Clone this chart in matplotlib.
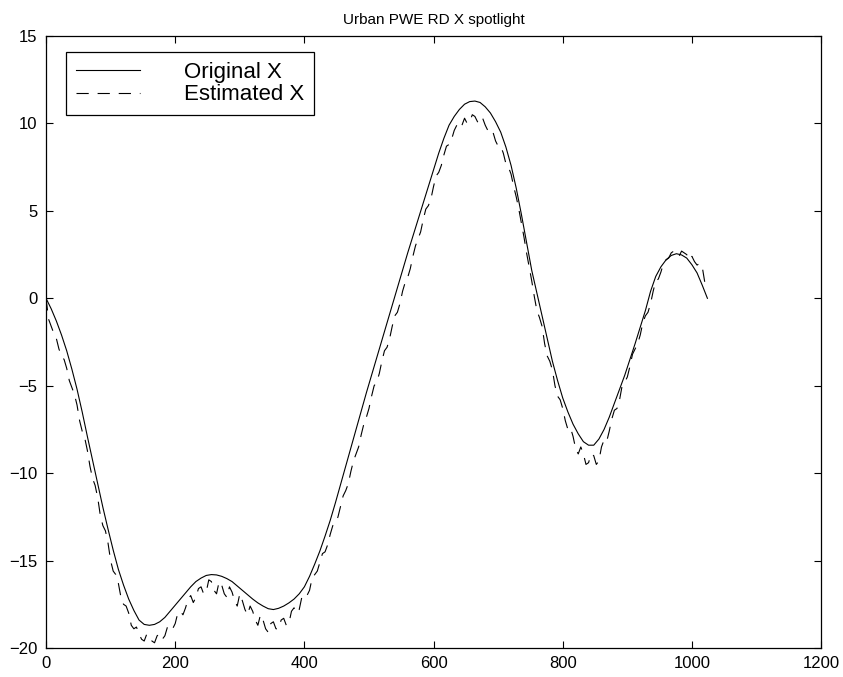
from matplotlib import pyplot as plt

plt.rcParams['font.family'] = ['Liberation Sans', 'DejaVu Sans']

# sinal original (amostrado a cada 8)
x_orig = list(range(0, 1025, 8))
y_orig = [0.0, -0.6, -1.3, -2.1, -3.0, -4.05, -5.2, -6.5, -7.9, -9.25,
          -10.6, -11.95, -13.2, -14.4, -15.5, -16.4, -17.2, -17.85, -18.4, -18.65,
          -18.7, -18.65, -18.5, -18.25, -17.9, -17.55, -17.2, -16.85, -16.5, -16.2,
          -16.0, -15.85, -15.8, -15.82, -15.9, -16.03, -16.2, -16.45, -16.7, -16.95,
          -17.2, -17.42, -17.6, -17.75, -17.8, -17.73, -17.6, -17.42, -17.2, -16.9,
          -16.5, -15.9, -15.2, -14.45, -13.6, -12.7, -11.7, -10.65, -9.6, -8.55,
          -7.5, -6.45, -5.4, -4.4, -3.4, -2.4, -1.4, -0.4, 0.6, 1.6,
          2.6, 3.55, 4.5, 5.45, 6.4, 7.35, 8.3, 9.15, 9.9, 10.4,
          10.8, 11.1, 11.25, 11.28, 11.2, 10.95, 10.6, 10.1, 9.5, 8.65,
          7.6, 6.3, 4.8, 3.2, 1.6, 0.3, -1.0, -2.3, -3.6, -4.7,
          -5.7, -6.5, -7.2, -7.75, -8.2, -8.4, -8.4, -8.05, -7.5, -6.8,
          -6.0, -5.2, -4.4, -3.5, -2.6, -1.65, -0.7, 0.4, 1.25, 1.8,
          2.2, 2.45, 2.55, 2.48, 2.3, 1.92, 1.45, 0.75, 0.0]

# sinal estimado (amostrado a cada 4)
x_est = list(range(0, 1025, 4))
y_est = [0.0, -1.2, -1.6, -2.0, -2.3, -2.9, -3.3, -3.5, -4.0, -4.7,
         -5.1, -5.5, -6.1, -7.0, -7.6, -8.0, -8.7, -9.6, -10.3, -10.7,
         -11.4, -12.4, -13.0, -13.3, -14.0, -15.0, -15.6, -15.8, -16.3, -17.1,
         -17.5, -17.6, -18.0, -18.7, -18.9, -18.8, -19.2, -19.5, -19.6, -19.2,
         -19.4, -19.6, -19.7, -19.3, -19.2, -19.5, -19.3, -18.8, -18.7, -18.9,
         -18.6, -18.0, -17.9, -18.1, -17.7, -17.2, -17.0, -17.4, -17.1, -16.6,
         -16.5, -16.9, -16.8, -16.1, -16.2, -16.7, -16.9, -16.2, -16.4, -16.9,
         -17.1, -16.5, -16.8, -17.3, -17.6, -16.9, -17.3, -17.8, -18.1, -17.6,
         -17.9, -18.4, -18.7, -18.1, -18.4, -18.9, -19.1, -18.6, -18.5, -18.9,
         -18.9, -18.4, -18.3, -18.7, -18.6, -17.9, -17.7, -18.0, -17.8, -17.1,
         -16.9, -17.0, -16.7, -16.0, -15.8, -15.6, -15.1, -14.6, -14.5, -14.1,
         -13.5, -13.0, -12.9, -12.5, -11.9, -11.3, -11.0, -10.6, -9.9, -9.3,
         -8.9, -8.5, -7.8, -7.2, -6.8, -6.3, -5.6, -5.0, -4.8, -4.3,
         -3.6, -3.0, -2.8, -2.3, -1.6, -1.0, -0.8, -0.3, 0.4, 0.9,
         1.2, 1.7, 2.4, 3.0, 3.4, 3.8, 4.5, 5.1, 5.3, 5.7,
         6.4, 7.0, 7.2, 7.6, 8.2, 8.7, 8.8, 9.1, 9.6, 9.9,
         9.7, 9.9, 10.3, 10.0, 10.1, 10.5, 10.4, 10.1, 10.0, 10.3,
         9.9, 9.6, 9.4, 9.5, 9.0, 8.7, 8.7, 8.3, 7.7, 7.5,
         7.1, 6.4, 5.8, 5.1, 4.3, 3.5, 2.6, 1.8, 1.0, 0.1,
         -0.7, -1.1, -1.6, -2.6, -3.3, -3.6, -4.1, -5.0, -5.6, -5.8,
         -6.3, -7.0, -7.5, -7.4, -7.9, -8.6, -8.9, -8.5, -8.9, -9.5,
         -9.4, -8.9, -9.0, -9.5, -9.3, -8.5, -8.1, -8.2, -7.6, -6.9,
         -6.4, -6.3, -5.8, -5.0, -4.8, -4.5, -3.9, -3.2, -2.9, -2.6,
         -2.1, -1.4, -1.0, -0.8, -0.3, 0.4, 1.0, 1.1, 1.5, 2.0,
         2.2, 2.3, 2.6, 2.7, 2.5, 2.4, 2.7, 2.6, 2.5, 2.2,
         2.4, 2.1, 1.9, 2.0, 1.8, 0.9, 0.8]

fig = plt.figure(figsize=(8.43, 6.77), dpi=100)
ax = fig.add_axes([0.0546, 0.0428, 0.9194, 0.904])

ax.plot(x_orig, y_orig, color='black', linewidth=0.8, linestyle='-', label='Original X')
ax.plot(x_est, y_est, color='black', linewidth=0.8, linestyle=(0, (11, 8)), label='Estimated X')

ax.set_xlim(0, 1200)
ax.set_ylim(-20, 15)
ax.set_xticks(range(0, 1201, 200))
ax.set_yticks(range(-20, 16, 5))
ax.tick_params(direction='in', length=5, top=True, right=True, labelsize=12, width=0.8, pad=6)
for s in ax.spines.values():
    s.set_linewidth(0.9)

ax.set_title('Urban PWE RD X spotlight', fontsize=11, pad=9)

# legenda no canto superior esquerdo, caixa sem cantos arredondados
leg = ax.legend(loc='upper left', bbox_to_anchor=(0.0258, 0.974), borderaxespad=0,
                fontsize=16, handlelength=2.9, handletextpad=1.95, borderpad=0.45,
                labelspacing=0.07, fancybox=False, framealpha=1, edgecolor='black')
leg.get_frame().set_linewidth(0.9)

plt.savefig('out.png', dpi=100)
